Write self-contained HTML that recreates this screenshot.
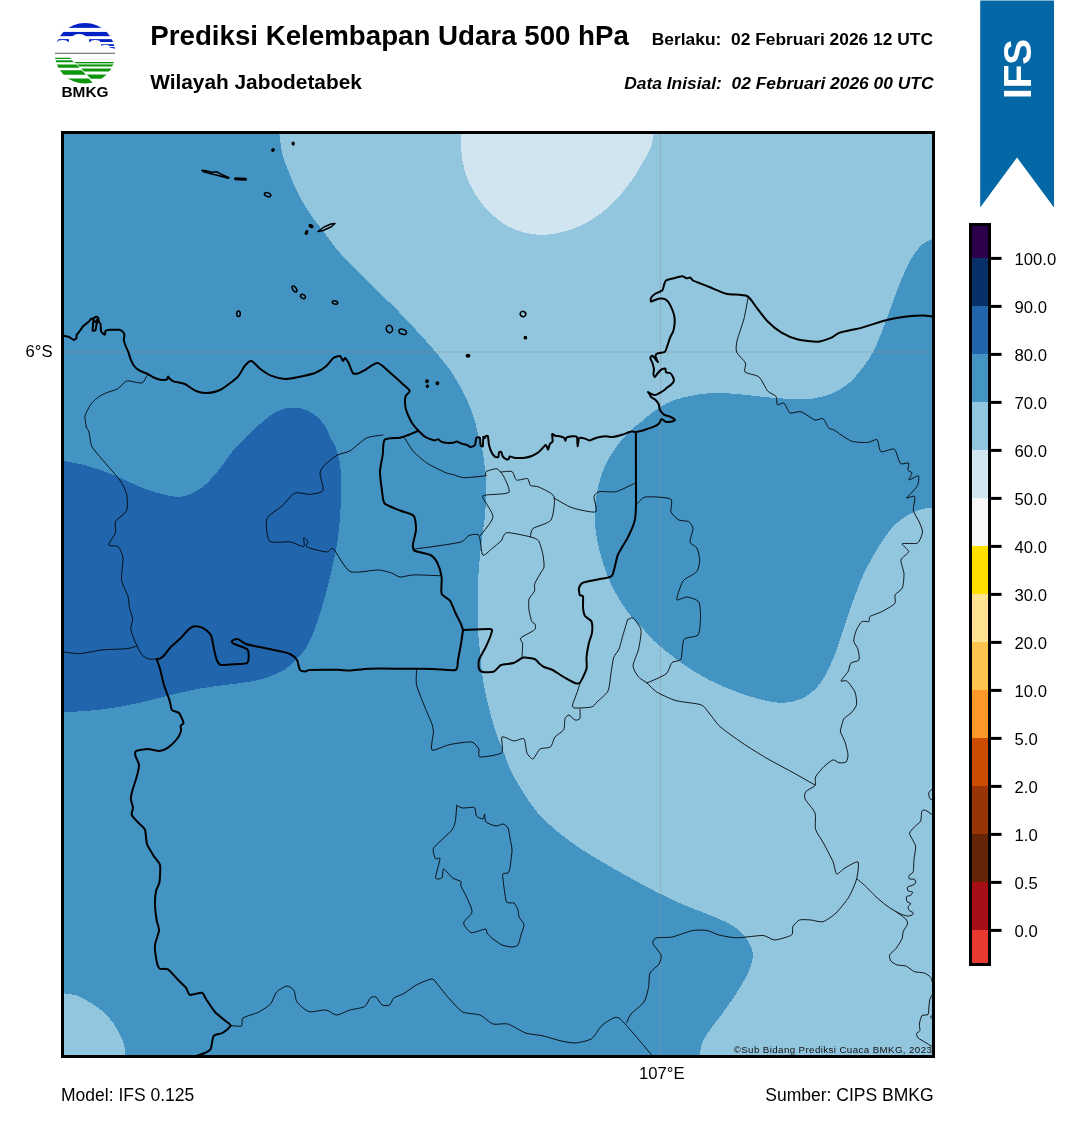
<!DOCTYPE html>
<html lang="id"><head><meta charset="utf-8"><title>Prediksi Kelembapan Udara 500 hPa</title>
<style>
html,body{margin:0;padding:0;background:#fff;}
body{width:1081px;height:1128px;position:relative;overflow:hidden;font-family:"Liberation Sans",sans-serif;color:#000;}
svg text{white-space:pre;}
</style></head><body>
<svg width="1081" height="1128" viewBox="0 0 1081 1128" style="position:absolute;left:0;top:0;will-change:transform">
<defs><clipPath id="mc"><rect x="62" y="132" width="872" height="925"/></clipPath></defs>
<g clip-path="url(#mc)" shape-rendering="crispEdges">
<rect x="61" y="131" width="874" height="927" fill="#4393c3"/>
<path d="M279.3 131C279.3 131.7 279 131.2 279.5 135C280 138.8 280.9 148.3 282.3 154C283.7 159.7 285.8 164 287.7 169C289.6 174 291.2 178.6 293.6 183.8C296 189.1 298.6 194.8 301.8 200.5C305 206.2 309.3 212.8 312.9 217.9C316.5 223 319.3 225.8 323.2 231C327.1 236.2 332.2 243.8 336.5 249C340.8 254.2 345 258 348.8 262C352.6 266 354.7 268.2 359.5 273C364.3 277.8 370.1 283.4 377.8 291C385.5 298.6 396.3 309 405.5 318.7C414.7 328.4 425.1 339.8 433 349C440.9 358.2 447.1 365.7 452.7 374C458.3 382.3 462.9 391.2 466.6 399C470.3 406.8 472.9 414.2 475 421C477.1 427.8 477.7 434.8 479 440C480.3 445.2 481.6 446.3 482.7 452C483.8 457.7 484.8 467 485.4 474.4C485.9 481.8 486.1 489.2 486 496.6C485.9 504 485.4 510.5 484.6 518.8C483.8 527.1 482 537.4 481 546.6C480 555.8 479.1 564.8 478.5 574C477.9 583.2 477.8 592.7 477.7 602C477.6 611.3 477.6 621.7 478 630C478.4 638.3 479.2 643.7 480 652C480.8 660.3 481.5 670.8 483 680C484.5 689.2 486.6 698.7 488.8 707.5C491 716.3 493.8 726.3 496 733C498.2 739.7 499.5 741.3 502 747.6C504.5 753.9 507.6 763.7 511 771C514.5 778.3 518.4 784.7 522.7 791.5C527 798.3 531.6 805.7 537 812C542.4 818.3 548.2 823.7 555 829.5C561.8 835.3 570.2 841.6 578 847C585.8 852.4 593.9 857 601.7 861.7C609.5 866.4 617.8 871 625 875C632.2 879 639.1 882.8 645 886C650.9 889.2 654 890.8 660.5 894C667 897.2 676.2 901.7 684 905C691.8 908.3 699.7 911 707 914C714.3 917 721.9 919.8 727.8 923C733.7 926.2 738.5 929.5 742.4 933.4C746.3 937.3 749.3 942.5 751 946.6C752.7 950.7 753.2 953.6 752.7 958C752.2 962.4 750.7 967.2 748 973C745.3 978.8 740.9 986.2 736.6 993C732.3 999.8 726.6 1007.6 722 1014C717.4 1020.4 712.2 1026.4 708.8 1031.5C705.4 1036.6 703 1040.2 701.5 1044.6C700 1049 700.2 1055.8 700 1058L940 1060L940 128L279 128Z" fill="#92c5de"/>
<path d="M936 236C935.3 236.5 934.7 237 932 238.8C929.3 240.6 923.8 242.6 920 246.6C916.2 250.6 912.7 256.1 909 263C905.3 269.9 901.2 280.1 898 288C894.8 295.9 892.5 303 889.8 310.4C887 317.8 884.3 325.7 881.5 332.6C878.7 339.5 876.2 346 873 352C869.8 358 866.2 363.4 862 368.7C857.8 374 853.1 379.8 848 384C842.9 388.2 837.5 391.2 831.5 393.7C825.5 396.1 818.9 397.8 812 398.7C805.1 399.6 797.8 399.3 790 399C782.2 398.7 773.8 397.8 765 397C756.2 396.2 745.8 394.7 737 394C728.2 393.3 719.8 392.7 712 393C704.2 393.3 696.5 394.7 690 396C683.5 397.3 678.1 398.7 673 400.6C667.9 402.5 663.6 404.9 659.4 407.5C655.2 410.1 651.2 413.4 648 416C644.8 418.6 643 420.3 640 422.8C637 425.3 633.9 427 630 431C626.1 435 620.6 440.9 616.4 446.7C612.2 452.5 608 459.5 605 466C602 472.5 600.1 478.6 598.4 485.5C596.7 492.4 595.3 500.3 594.8 507.7C594.3 515.1 594.8 522.6 595.6 530C596.4 537.4 597.7 544.2 599.8 552C601.9 559.8 604.8 569.2 608 577C611.2 584.8 614.8 592 619 599C623.2 606 629.5 614.4 633 618.7C636.5 623 636.5 621.3 640 625C643.5 628.7 647.1 634.7 654 641C660.9 647.3 672.4 656.5 681.6 663C690.8 669.5 699.8 675 709 679.8C718.2 684.6 727.7 688.5 737 692C746.3 695.5 757.2 698.8 765 700.6C772.8 702.4 778 703.1 784 702.8C790 702.5 795.9 701.2 801 699C806.1 696.8 810.7 693.7 814.9 689.5C819.1 685.3 822.3 680.8 826 674C829.7 667.2 833.8 657.3 837 649C840.2 640.7 842.2 632.3 845 624C847.8 615.7 850.4 607.8 853.7 599C857 590.2 860.6 580.2 864.8 571.5C869 562.8 874.1 554 878.7 546.6C883.3 539.2 888 532.1 892.6 527C897.2 521.9 901.9 518.9 906.5 516C911.1 513.1 915.8 511.1 920 509.7C924.2 508.3 929.3 508.1 932 507.7C934.7 507.2 935.3 507.1 936 507L940 507Z" fill="#4393c3"/>
<path d="M460.3 131C460.3 131.5 460.1 129.1 460.5 134C460.9 138.9 461 152.4 462.4 160.5C463.8 168.6 465.6 175.3 469 182.7C472.4 190.1 477.4 198.3 483 205C488.6 211.7 496.2 218.5 502.7 223C509.2 227.5 515.1 230 522 232C528.9 234 536.6 235.2 544 235C551.4 234.8 559 233.2 566.5 231C574 228.8 581.3 225.9 588.7 221.6C596.1 217.3 604.1 211.5 611 205C617.9 198.5 624.5 190.1 630 182.7C635.5 175.3 640.5 166.5 644 160.5C647.5 154.5 649.5 151.1 651 146.7C652.5 142.3 652.9 136.6 653.3 134C653.7 131.4 653.5 131.5 653.5 131Z" fill="#d1e5f0"/>
<path d="M60 460.5C60.7 460.6 59.4 460.1 64 461C68.6 461.9 79.2 463.5 87.8 466C96.4 468.5 106.3 472.1 115.5 475.8C124.7 479.5 134.7 484.8 143 488C151.3 491.2 159 493.6 165.5 495C172 496.4 176.4 497.5 182 496.6C187.6 495.7 193.2 493.4 198.8 489.7C204.4 486 209.9 480.7 215.4 474.4C220.9 468.1 226.9 458.2 232 452C237.1 445.8 241.3 441.7 246 437C250.7 432.3 254.9 428.2 260 424C265.1 419.8 271 414.4 276.5 411.7C282 408.9 287.4 407.5 293 407.5C298.6 407.5 304.9 408.9 310 411.7C315.1 414.4 320.3 419.6 323.7 424C327.1 428.4 328.6 434 330.6 438C332.7 442 334.4 443.3 336 448C337.6 452.7 339.5 459.8 340.3 466C341.1 472.2 341 477.7 341 485.5C341 493.3 340.9 503.8 340.3 513C339.7 522.2 338.9 531.7 337.5 541C336.1 550.3 334.1 559.5 332 568.8C329.9 578 327.6 587.3 325 596.5C322.4 605.7 319.7 615.7 316.7 624C313.7 632.3 310.9 640 307 646.5C303.1 653 298.1 658.4 293 663C287.9 667.6 283 671 276.5 674C270 677 262.3 679.2 254 681C245.7 682.8 235.7 683.5 226.5 684.8C217.3 686.1 208.1 687 198.8 688.7C189.6 690.4 180.3 692.8 171 695C161.7 697.2 152.2 699.9 143 702C133.8 704.1 124.7 706 115.5 707.5C106.3 709 96.4 710.1 87.8 710.9C79.2 711.6 68.6 711.8 64 712C59.4 712.2 60.7 712.2 60 712.3Z" fill="#2166ac"/>
<path d="M60 993C60.7 993.1 61.1 992.9 64 993.4C66.9 993.9 72.9 994.1 77.6 995.8C82.3 997.5 87.1 1000.5 92 1003.7C96.9 1006.9 102.4 1010.4 106.8 1015C111.2 1019.6 115.6 1026.3 118.5 1031.5C121.4 1036.7 123.3 1042.1 124.4 1046C125.5 1049.9 124.9 1052.7 125 1055C125.1 1057.3 125 1059.2 125 1060L60 1060Z" fill="#92c5de"/>
</g>
<g clip-path="url(#mc)">
<line x1="61" y1="352" x2="935" y2="352" stroke="#909090" stroke-opacity="0.85" stroke-width="1" stroke-dasharray="1 1"/>
<line x1="660.5" y1="131" x2="660.5" y2="1058" stroke="#909090" stroke-opacity="0.8" stroke-width="1" stroke-dasharray="1 1"/>
<g fill="none" stroke="#000" stroke-width="1" stroke-linejoin="round" stroke-linecap="round" stroke-opacity="0.88">
<path d="M147 375.5C146.6 376.3 144 381.6 143 382.4C142 383.2 139.5 382.9 137.7 382.7C135.9 382.5 128.8 380.3 126.6 381C124.4 381.7 119.9 387.5 117.7 388.8C115.5 390.1 108.6 391.9 106.6 392.7C104.6 393.5 101.2 395.3 100 396C98.8 396.7 96.6 398.4 95.5 399.4C94.4 400.4 91.7 403 90.5 404.8C89.3 406.6 85.5 413.5 85 416C84.5 418.5 86 425.2 86.4 427C86.8 428.8 88.4 429.8 89 432C89.6 434.2 90.3 443.4 92 446.7C93.7 450 101.3 458.3 104.4 462C107.5 465.7 117.2 476.5 119.7 480C122.2 483.5 125.8 490.4 126.6 493.8C127.4 497.2 127.8 507.4 126.6 510.5C125.4 513.6 116.7 519.1 115.5 521.6C114.3 524.1 116.3 530.1 115.5 532.7C114.7 535.3 108.3 543.5 108.6 545C108.9 546.5 116.4 545.2 118 546.6C119.6 548 122.6 554 123 557.7C123.4 561.4 121 575.7 121.6 580C122.2 584.3 127.1 593.4 128 596.5C128.9 599.6 128.9 605.1 129.4 607.6C129.9 610.1 132.5 616.2 132.7 618.7C132.9 621.2 130.4 627 130.8 629.8C131.2 632.6 134.8 640.9 136 643.7C137.2 646.5 140.5 653.1 141.9 654.8C143.3 656.5 147.1 658.5 148.8 659C150.5 659.5 156.1 659 157 659"/>
<path d="M60 652C60.4 652 61.8 651.8 64 652C66.2 652.2 75.2 653.9 79.4 653.7C83.6 653.5 96.4 650.6 101.6 650C106.8 649.4 122.7 649.1 126.6 648.7C130.5 648.3 135.8 646.3 137 646"/>
<path d="M383 435C381.2 435.3 370.3 436.2 366.6 438C362.9 439.8 353.2 448.9 350 450.8C346.8 452.7 340.3 453.5 337.5 455C334.7 456.5 326.9 462.7 325 464.7C323.1 466.7 320.2 470.1 320 473C319.8 475.9 324.1 488.1 323 490.5C321.9 492.9 312.9 494.1 309.8 494.4C306.7 494.7 298.1 491.7 295 493C291.9 494.3 285.1 503.1 282 506C278.9 508.9 268.2 514.9 266.8 518.8C265.4 522.7 266.9 538.4 269.5 541C272.1 543.6 286.2 541.3 290 541.9C293.8 542.5 302.2 547.1 303.7 546.6C305.2 546.1 303.2 538.3 303.7 537.7C304.2 537.1 307.4 540.6 307.8 541.6C308.2 542.6 304.9 545.8 307 547C309.1 548.2 323.5 551.8 326.4 552C329.3 552.2 330.8 546.8 333.4 549C336 551.2 345.1 569.2 350 571.5C354.9 573.8 373.2 569.8 377.8 570C382.4 570.2 389.1 572.2 391.6 573C394.1 573.8 397.5 576.8 400 577C402.5 577.2 409.4 575 413.8 574.9C418.2 574.8 437.1 575.6 440 575.7"/>
<path d="M748 298C747.6 300.3 745.2 313.9 744 318.7C742.8 323.5 737.8 337.3 737 341C736.2 344.7 735.7 349.6 736.6 352C737.5 354.4 744.6 360.8 745.5 363C746.4 365.2 743.5 370.4 745 372C746.5 373.6 756.5 374.9 759 377C761.5 379.1 765.8 388.8 767.7 391C769.6 393.2 774.9 394.9 776 396.4C777.1 397.9 776.5 404.1 777.4 404.8C778.3 405.5 782.6 402.1 784 403C785.4 403.9 788.1 412 790 413C791.9 414 798.2 410.9 801 411.7C803.8 412.5 812.5 419.2 814.9 420C817.3 420.8 821.5 417.7 823 418.6C824.5 419.5 827.5 426.7 828.7 428C829.9 429.3 831.5 428.6 834 430C836.5 431.4 847.3 439.6 851 441C854.7 442.4 864.7 442.6 867.6 442.5C870.5 442.4 875.5 438.7 877 439.7C878.5 440.7 879.1 450.6 881 451.6C882.9 452.6 892.1 448.3 894 449C895.9 449.7 897.2 456.1 898 457.8C898.8 459.5 899.8 463.3 901 463.9C902.2 464.5 907.9 462.3 908.7 463C909.5 463.7 907.4 468.9 907.8 470C908.2 471.1 911.9 471.9 912 473C912.1 474.1 908.3 479.7 909 480C909.7 480.3 917.5 475.2 918.4 475.8C919.3 476.4 918.4 483.5 917.5 485.5C916.6 487.5 911.8 492.4 910.6 493.8C909.4 495.2 906 497.7 906.5 498C907 498.3 914 495.2 914.8 496.6C915.6 498 912.9 507.7 913.4 510.5C913.9 513.3 918 519.2 919 521.6C920 524 922.7 529.6 922.5 532C922.3 534.4 919.7 541.7 917.5 543C915.3 544.3 903.3 542.8 902.3 543.8C901.3 544.8 908.8 549.8 908.7 551.6C908.6 553.4 901.5 557.5 901 560C900.5 562.5 903.9 570.9 904 574C904.1 577.1 903.3 585.7 902.3 588C901.3 590.3 895.8 593.3 895 595C894.2 596.7 896.3 601.6 894.8 603.5C893.3 605.4 884.3 610.4 881.5 611.8C878.7 613.2 871.4 615.4 870 616.5C868.6 617.6 869.9 620.9 869 621.5C868.1 622.1 863.4 620.6 862 621.5C860.6 622.4 857.4 627.6 856.5 629.8C855.6 632 853.5 638.9 853.7 641C853.9 643.1 857.3 646.9 857.9 649C858.5 651.1 859.8 658.4 859 660C858.2 661.6 852.2 661.7 851 663C849.8 664.3 849.1 669.5 848 671.5C846.9 673.5 841.1 679.9 841 681C840.9 682.1 845.2 679.8 846.8 681C848.4 682.2 853.9 689.4 855 692C856.1 694.6 856.9 702.5 856.5 704.8C856.1 707.1 852.4 711.5 851 713C849.6 714.5 845.1 716.9 844 718.6C842.9 720.3 841.4 726.5 841 728C840.6 729.5 840.1 730.5 840.5 732C840.9 733.5 844.1 739.2 844.9 741.7C845.7 744.2 847.9 752.6 848 754.9C848.1 757.2 847 761.1 846 762C845 762.9 840.4 763 839 762.8C837.6 762.6 834.7 759.5 833 759.9C831.3 760.3 825.9 764.7 824 766.6C822.1 768.5 816.6 774.7 815.6 776.8C814.6 778.9 816.1 784 815 785.6C813.9 787.2 807.1 790 806 791.5C804.9 793 804 796.4 805 798.8C806 801.2 813.8 809.6 815 813C816.2 816.4 814.6 826.1 815.6 829.5C816.6 832.9 822.1 840.4 824 844C825.9 847.6 831.6 858.4 833 861.7C834.4 865 835.4 873.3 836.7 874C838 874.7 842.5 869.3 844.9 868C847.3 866.7 856.7 860.8 858 862C859.3 863.2 857.6 875.1 856.6 879C855.6 882.9 851.3 893 849 896.8C846.7 900.6 838.9 910.2 836 913C833.1 915.8 825.8 920.9 823 921.7C820.2 922.5 813.6 920.2 811 920C808.4 919.8 801.5 919.3 799.5 920C797.5 920.7 793.7 925 792.8 926.7C791.9 928.4 793.6 933.5 791.6 935C789.6 936.5 777.8 939.9 774.6 940C771.4 940.1 767.2 935.7 763 935.5C758.8 935.3 741.5 937.9 736.6 937.8C731.7 937.7 722.3 935.8 719 935C715.7 934.2 709.9 931 707 930.5C704.1 930 696.6 929.8 692.7 930.5C688.8 931.2 676.1 936.2 672 937C667.9 937.8 658.1 937.3 656 938C653.9 938.7 652.4 941.8 653 943.7C653.6 945.6 660.3 952.7 661 955C661.7 957.3 660.2 962 659 964C657.8 966 651.2 970.4 650 973C648.8 975.6 649.2 984.4 648.5 987.6C647.8 990.8 645.9 999.1 644 1002C642.1 1004.9 632.9 1011.7 631 1014C629.1 1016.3 627.1 1021.7 626.6 1022.7"/>
<path d="M404.6 438C405.6 439.6 411.3 449.2 413.9 452C416.5 454.8 424.2 461.3 427.8 463.6C431.4 465.9 443.2 471.6 446 472.8C448.8 474 450.7 473.9 452.7 474.4C454.7 474.9 460.1 477.5 463.8 477.7C467.5 477.9 483.5 476 486 475.8"/>
<path d="M486 475.8C486 475.3 484.8 472.4 486 471.6C487.2 470.8 495 468.3 497 468.9C499 469.5 502.7 474.4 504 477C505.3 479.6 510.8 490.4 508.8 492.4C506.8 494.4 488.9 494.4 486 495C483.1 495.6 482.2 495.6 483 498C483.8 500.4 493.3 512.8 493 517C492.7 521.2 481.8 533.4 480.4 535.5"/>
<path d="M501 472C502.2 472 510.3 470.7 512 471.6C513.7 472.5 514.8 479.2 516.5 480C518.2 480.8 526.1 478 527.6 478.6C529.1 479.2 529.2 484.6 530.4 485.5C531.6 486.4 536.1 485.8 538.7 487C541.3 488.2 552.6 492.9 554 496.6C555.4 500.3 553.3 516.5 551 520C548.7 523.5 535.3 526.6 533 528.5C530.7 530.4 530.7 536 530.4 536.9"/>
<path d="M554 498C556 499.1 567.4 506.2 572 507.7C576.6 509.2 593.2 513.1 595.6 511.9C598 510.7 593.5 498.9 594 496.6C594.5 494.3 597.3 492.2 599.8 491.6C602.3 491 612.4 492.6 616.4 491.6C620.4 490.6 633.7 483.7 635.9 482.7"/>
<path d="M636 505C637.1 504.1 641.7 497.7 645.5 497C649.3 496.3 667.7 497.3 670.5 499C673.3 500.7 670.1 509.6 671 511.9C671.9 514.2 676.9 518.9 678.9 520C680.9 521.1 687 520.7 688.6 521.6C690.2 522.5 692.8 526.2 693 528.5C693.2 530.8 689.6 539.8 690 542C690.4 544.2 695.8 546 696.9 548C698 550 699.7 557.4 699.7 560C699.7 562.6 698.6 569.3 696.9 571.5C695.2 573.7 685.9 578.1 684 579.9C682.1 581.7 680.8 585.8 680 588C679.2 590.2 676.1 598.8 676.9 599.8C677.7 600.8 684.6 596.8 687 597C689.4 597.2 697.3 599.6 698.8 602C700.3 604.4 700.6 615 700.5 618.7C700.4 622.4 699.8 632.7 698 635C696.2 637.3 685.9 636.8 684 639.5C682.1 642.2 682.3 656.4 681 659C679.7 661.6 673.7 660.9 672 662.6C670.3 664.3 668.8 671.7 666 674C663.2 676.3 649.1 682 647 683"/>
<path d="M414.4 549C416.5 548.7 427.8 547.4 433 546.6C438.2 545.8 457 543.2 461 542C465 540.8 467 536.2 469 535.5C471 534.8 477.5 533.3 479 535.5C480.5 537.7 481.3 553.5 482.7 555C484.1 556.5 489.5 550.6 491.5 549C493.5 547.4 499.3 542.8 501 541C502.7 539.2 503.5 533.2 506.8 532.7C510.1 532.2 526.9 536 530.4 536.9C533.9 537.8 537.3 539 538.7 541C540.1 543 542.4 552.1 543 555C543.6 557.9 544.3 564.9 544 567C543.7 569.1 541 572.1 540 574C539 575.9 535.2 582.1 534.6 584C534 585.9 535.2 589.3 534.6 591C534 592.7 529.6 596.9 529 599C528.4 601.1 528.7 607.5 529 610C529.3 612.5 531.1 619.9 531.8 621.5C532.5 623.1 534.7 623.1 535 624C535.3 624.9 536.2 628.2 534.6 629.8C533 631.4 522 636.5 520.7 638C519.4 639.5 522.5 641.5 522.6 643.7C522.7 645.9 522.1 656.1 522 657.6"/>
<path d="M416.6 670C416.6 671.7 415.7 680.8 416.6 685C417.5 689.2 423.3 703.2 425 707.5C426.7 711.8 431 721.3 431.9 724C432.8 726.7 433.4 729.1 433.4 732C433.4 734.9 430.2 748.6 432 750C433.8 751.4 445.1 745.5 449.5 744.6C453.9 743.7 468.2 741.5 471.5 742C474.8 742.5 477.9 747.3 478.8 749C479.7 750.7 477.5 756.6 480 757C482.5 757.4 499.2 755 501.6 752.8C504 750.6 500.6 738.3 502 737C503.4 735.7 511.6 740.8 514 741C516.4 741.2 522.6 737.5 524 738.8C525.4 740.1 526 750.8 527 753C528 755.2 531.6 759.4 533 759C534.4 758.6 538.1 750.3 540 749C541.9 747.7 548.8 748.3 550.5 747C552.2 745.7 553.5 738.9 555 737C556.5 735.1 562.6 731.7 563.7 729.7C564.8 727.7 564.4 720.2 565 718.6C565.6 717 567.9 714.8 569 715C570.1 715.2 573.8 719.6 575 720C576.2 720.4 579.2 719.8 579.8 718.6C580.4 717.4 580 710.1 580 709"/>
<path d="M627.5 620C628.1 619.8 631.5 616.9 633 618C634.5 619.1 640.4 626.4 641 629.8C641.6 633.2 639.5 645 638.6 649C637.7 653 633 662.9 633 666C633 669.1 637 675.1 638.6 677C640.2 678.9 645 681.3 647 683C649 684.7 653.5 690 656.7 692C659.9 694 671.1 699.2 676 700.6C680.9 702 697.3 703.4 701 704.8C704.7 706.2 706.8 710.5 709 713C711.2 715.5 716.8 723.7 720.5 727C724.2 730.3 737.4 739.6 742.4 743C747.4 746.4 760.4 754.6 765.9 757.8C771.4 761 786.5 769 792 772C797.5 775 812.4 783.6 815 785"/>
<path d="M627.5 620C627 621.7 623.9 631.8 623 635C622.1 638.2 620 646.5 619 649C618 651.5 614.6 654.8 613.7 657.6C612.8 660.4 611.5 670.3 610.9 674C610.3 677.7 609.5 687.9 608 691C606.5 694.1 598.8 700.2 597 702C595.2 703.8 594 706.3 591.5 707C589 707.7 576.9 708.2 574.8 708C572.7 707.8 572.3 706.7 572.6 704.8C572.9 702.9 576.8 693.4 577.6 691C578.4 688.6 579.7 683.9 580 683"/>
<path d="M456.8 805.5C457.5 805.8 460.7 807.8 462.7 808C464.7 808.2 472.9 806.7 474.4 807.6C475.9 808.5 475.4 814.7 476.4 816C477.4 817.3 482.1 819.2 483 819C483.9 818.8 484.3 813.7 484.6 814C484.9 814.3 484.7 820.7 486 822C487.3 823.3 494.1 825.8 496 826C497.9 826.2 501.5 823.8 502.8 824C504.1 824.2 507.2 826.4 508 828C508.8 829.6 509.6 835.6 510 838C510.4 840.4 512 846.7 512 850C512 853.3 510.4 865 510 867.6C509.6 870.2 508.8 872.3 508 873C507.2 873.7 503.3 872.7 502.8 874C502.3 875.3 503.3 881.9 503.7 885C504.1 888.1 505.5 900 506.6 902C507.7 904 512.7 902.1 514 903C515.3 903.9 517.4 908.4 518 910C518.6 911.6 518.3 915.4 519 917C519.7 918.6 523.8 922.6 524 924.6C524.2 926.6 521.7 932.7 521 935C520.3 937.3 519 943.7 518 945C517 946.3 513.8 947 512 947C510.2 947 504.1 945.9 502 945C499.9 944.1 494.7 940.3 493 939C491.3 937.7 487.8 934.1 487 933C486.2 931.9 486.9 929.2 486 929C485.1 928.8 480.5 930.6 478.8 931C477.1 931.4 472.3 933.4 470.6 932.5C468.9 931.6 463.4 925.3 463.6 923C463.8 920.7 471.6 914.8 472 912C472.4 909.2 468 900.5 467 898C466 895.5 463.4 890.9 462.7 889.5C462 888.1 460.8 885.9 460.6 885C460.4 884.1 461.9 882.4 461 881.6C460.1 880.8 454.3 879.2 452.4 877.8C450.5 876.4 444.9 869 443.7 869C442.5 869 442.9 876.8 442 877.8C441.1 878.8 435.7 879.9 435.5 877.8C435.3 875.7 440 860.9 440 858.8C440 856.7 436.2 859.9 435.5 858.8C434.8 857.7 432.5 850.8 433.4 848.5C434.3 846.2 441.6 840.1 443.7 838C445.8 835.9 451.1 831.4 452.4 829.5C453.7 827.6 454.9 823.4 455.4 820.7C455.9 818 456.6 807.2 456.8 805.5"/>
<path d="M230.6 1025.6C231.8 1025.6 240.1 1026.8 241.5 1026C242.9 1025.2 241.1 1019.6 243 1018C244.9 1016.4 255.9 1013.6 259 1012C262.1 1010.4 268.7 1005.9 270.7 1003.7C272.7 1001.5 274.8 994 276.6 992C278.4 990 284.9 986.2 286.8 986C288.7 985.8 292.9 988.7 294 990.5C295.1 992.3 295.4 999.7 297 1002C298.6 1004.3 305.6 1010.7 308.8 1011.6C312 1012.5 322.9 1009.6 326 1010C329.1 1010.4 333.9 1015 336.6 1015C339.3 1015 346.9 1010.9 350 1010C353.1 1009.1 362.3 1008 364.6 1006.6C366.9 1005.2 369.2 998.9 370.5 997.8C371.8 996.7 374.7 996.2 376 997C377.3 997.8 380.5 1004.1 382 1005C383.5 1005.9 388.2 1005.8 389.5 1005C390.8 1004.2 392.4 999.1 394 997.8C395.6 996.5 401.4 994.9 404 993.4C406.6 991.9 413.9 986.2 417 984.6C420.1 983 429.7 979 432 979C434.3 979 435.9 982.4 437.8 984.6C439.7 986.8 446.7 996 449.5 999C452.3 1002 459.3 1010.2 462.7 1012C466.1 1013.8 476.6 1013.7 480 1015C483.4 1016.3 489.9 1023 493 1024C496.1 1025 504.4 1023 508 1024C511.6 1025 521.7 1031.7 525.6 1033C529.5 1034.3 539.1 1035 543 1035.9C546.9 1036.8 557.1 1040 560.7 1040.8C564.3 1041.6 571.6 1043.2 575 1043C578.4 1042.8 588.5 1040.7 591.5 1038.8C594.5 1036.9 599.3 1027.9 601.7 1025.6C604.1 1023.3 611.5 1018.8 613.4 1018C615.3 1017.2 617.5 1017.2 619 1018C620.5 1018.8 624.5 1023.3 626.6 1025.6C628.7 1027.9 635.2 1035.5 638 1038.8C640.8 1042.1 649.9 1052.9 651.7 1055C653.5 1057.1 653.7 1057.7 654 1058"/>
<path d="M857.4 879.3C858.2 880 862.6 883.4 864.8 885.5C867 887.6 874.4 895.4 877.2 897.9C880 900.4 887.1 906.1 889.6 907.8C892.1 909.5 897.7 912.6 899.6 913.5C901.5 914.4 905.6 915.8 907 916C908.4 916.2 911.3 915.4 912 915C912.7 914.6 913.5 913.3 913.2 912.8C912.9 912.3 909.6 911 909 910.3C908.4 909.6 908 907.3 908.2 906.6C908.4 905.9 910.8 904.2 910.7 903.6C910.6 903 907.5 902.4 907 901.6C906.5 900.8 906.1 897.3 906.5 896.6C906.9 895.9 910 895.9 910.7 895.4C911.4 894.9 912.8 892.5 912.5 892C912.2 891.5 908.8 891.6 908.2 891C907.6 890.4 907.1 887.6 907.5 887C907.9 886.4 911.1 885.9 912 885.5C912.9 885.1 915.4 883.7 915.7 883C916 882.3 915.1 879.7 914.4 879.3C913.7 878.9 910.1 879.4 909.5 879C908.9 878.6 908.6 876.3 909 875.5C909.4 874.7 912.6 873.6 913.2 871.8C913.8 870 913.7 862.2 914 859.4C914.3 856.6 915.8 849.1 915.7 847C915.6 844.9 913.9 842.3 913.2 840.8C912.5 839.3 909.4 834.8 909.5 833.3C909.6 831.8 913.2 828.4 914.4 827C915.6 825.6 919.8 822.8 920.6 821C921.4 819.2 921.3 812.2 921.9 811C922.5 809.8 924.4 809.9 925.6 810.3C926.8 810.7 931.1 814.1 932.3 814.7C933.5 815.3 935.6 815.9 936 816"/>
<path d="M895.8 911.5C896.9 912.3 904.5 917.6 905.8 919C907.1 920.4 907.8 922.6 907.5 924C907.2 925.4 903.9 929.8 903.3 931.4C902.7 933 902.8 936.9 902 938.8C901.2 940.7 897.2 946.9 895.8 948.7C894.4 950.5 890.1 953.6 889.6 955C889.1 956.4 890.1 959.9 890.9 961C891.7 962.1 895.3 964.3 897 964.9C898.7 965.5 903.9 965.3 905.8 966C907.7 966.7 912.3 970.8 914.4 971.6C916.5 972.4 922.6 972.4 924.4 973C926.2 973.6 929.7 976.3 930.6 977.3C931.5 978.3 931.9 981 932.3 982C932.7 983 933.8 985.6 934 986"/>
<path d="M933 788.7C932.5 789.1 929.2 791.3 928.8 792.4C928.4 793.5 929.3 797.8 929.8 798.6C930.3 799.4 932.6 799.8 933 799.9"/>
<path d="M934 993C933.8 993.2 932.8 993.9 932.3 994.6C931.8 995.3 930.2 998.1 929.8 999.6C929.4 1001.1 929 1006.3 928.8 1008C928.6 1009.7 928.8 1013.6 928 1014.5C927.2 1015.4 922.9 1014.6 921.9 1015.7C920.9 1016.8 919.6 1022.3 919.4 1024C919.2 1025.7 920.2 1029.5 919.9 1030.6C919.6 1031.7 916.6 1032.8 916.4 1033.6C916.2 1034.4 917.3 1037.1 918.2 1038C919.1 1038.9 922.8 1040.8 924.4 1041.8C926 1042.8 931.1 1046 932.3 1046.7C933.5 1047.4 934.7 1047.9 935 1048"/>
<path d="M933 1014.5C932.7 1014.8 930.6 1016.4 930.6 1017C930.6 1017.6 932.7 1019.2 933 1019.5"/>
</g>
<g fill="none" stroke="#000" stroke-width="2" stroke-linejoin="round" stroke-linecap="round">
<path d="M60 335C60.4 335.1 62.9 335.5 63.9 335.7C64.9 335.9 67.9 336.5 68.9 336.9C69.9 337.3 72.5 339.5 73.3 339.7C74.1 339.9 76 338.8 76.4 338.3C76.8 337.8 76.2 335.9 76.7 335C77.2 334.1 79.8 331 80.5 330C81.2 329 82.4 326.9 83.3 326C84.2 325.1 88 322.4 88.9 321.6C89.8 320.8 90.5 319.2 91 318.9C91.5 318.6 93.1 318.3 93.3 319C93.5 319.7 93.1 323.7 93 325C92.9 326.3 92.4 329.9 92.7 330.5C93 331.1 95.1 330.7 95.5 330C95.9 329.3 96.3 325.2 96.6 323.9C96.9 322.6 98.3 319.1 98.3 318.3C98.3 317.5 97 316.8 96.6 316.7C96.2 316.6 94.8 317.4 94.4 317.8C94 318.2 93.2 319.5 93.3 320C93.4 320.5 94.4 322.2 95 322C95.6 321.8 97.9 318.3 98.3 318.3C98.7 318.3 98.7 321.4 98.9 322C99.1 322.6 100.3 322.9 100.5 323.9C100.7 324.9 100.8 330 101 331C101.2 332 102.3 332.9 102.7 333.3C103.1 333.7 104.7 334.9 105 334.6C105.3 334.3 104.9 331.5 105.5 331C106.1 330.5 108.5 329.9 110 329.8C111.5 329.7 117.5 329.7 118.8 329.8C120.1 329.9 121.4 330.5 122 331C122.6 331.5 124.2 333.4 124.4 334.4C124.6 335.4 123.7 338.8 123.8 340C123.9 341.2 125 344.2 125.5 345.5C126 346.8 127.7 350.5 128.3 352C128.9 353.5 129.9 357.3 130.5 358.8C131.1 360.3 133 364.3 133.8 365.5C134.6 366.7 136.5 368.6 137.7 369.4C138.9 370.2 143.4 372.3 144.4 372.7C145.4 373.1 145.8 372.9 146.6 373.3C147.4 373.7 150.8 376 152 376.6C153.2 377.2 156.5 378.6 157.7 379C158.9 379.4 162 380 163 380C164 380 166.4 379.8 167 379.4C167.6 379 167.7 376.6 168 376.6C168.3 376.6 169.3 378.4 170 379C170.7 379.6 172.9 381.2 174 381.6C175.1 382 178.8 382.4 180 382.7C181.2 383 183.2 383.1 185 384C186.8 384.9 193.6 390 196 391C198.4 392 204.2 393.2 207 393C209.8 392.8 217.6 391.3 221 389.5C224.4 387.7 235 379.6 237.6 377C240.2 374.4 243.1 367.8 244.6 366C246.1 364.2 249.8 360.7 251.5 361C253.2 361.3 257.8 367.1 260 368.7C262.2 370.3 268.2 374.5 271 375.6C273.8 376.7 281.9 378.8 285 379C288.1 379.2 295.4 377.7 298.7 377C302 376.3 311.9 374.2 315 373C318.1 371.8 324.4 367.7 326.4 366C328.4 364.3 331.9 359.1 333.4 358C334.9 356.9 338.9 355.7 340 356C341.1 356.3 342.4 360.8 343 361C343.6 361.2 344.4 357.8 345 358C345.6 358.2 347.7 361.3 348.6 363C349.5 364.7 351.8 371.8 352.8 373C353.8 374.2 356.6 373.8 358 373.5C359.4 373.2 362.8 371.2 365 370C367.2 368.8 374.8 362.6 377.8 363C380.8 363.4 388.8 371.7 391.6 374C394.4 376.3 400.7 382.1 402.7 384C404.7 385.9 409.4 389.6 409.7 391C410 392.4 406 394.6 405.5 396.4C405 398.2 405.2 405.4 405.5 407.5C405.8 409.6 407.2 413.2 408 415C408.8 416.8 411.5 422.3 412.7 424C413.9 425.7 417.1 429.3 418.5 430.7C419.9 432.1 423.6 435.9 425.4 437C427.2 438.1 433.3 440.1 434.7 440.4C436.1 440.7 437.1 439.1 438 439.3C438.9 439.5 441.1 441.9 442.8 442.3C444.5 442.7 451.5 442.9 453 442.8C454.5 442.7 455.7 441.5 456.7 441.6C457.7 441.7 461.3 443.5 462.4 443.9C463.5 444.3 466.1 444.7 467 445C467.9 445.3 469.6 447 470.5 447C471.4 447 474.4 446 475 445C475.6 444 475.8 438.8 476.3 438C476.8 437.2 479.3 436.9 479.8 437.7C480.3 438.5 480.2 444.1 480.5 445C480.8 445.9 482.5 447.1 482.8 446.2C483.1 445.3 483.1 437.9 483.3 437C483.5 436.1 484.7 438.1 485 438C485.3 437.9 485.3 436.5 485.6 436.3C485.9 436.1 487.5 435.3 487.9 436.3C488.3 437.3 488.6 443.3 489 445C489.4 446.7 490.8 450.7 491.4 452C492 453.3 494 456 494.8 456.6C495.6 457.2 497.8 457.5 498.3 457C498.8 456.5 498.7 453.1 499 452.5C499.3 451.9 500.9 451.5 501.3 452C501.7 452.5 502.3 455.8 502.9 456.6C503.5 457.4 505.8 459.1 506.4 459.4C507 459.7 508.3 459.2 508.7 458.9C509.1 458.6 509.1 456.7 509.9 456.6C510.7 456.5 513.9 457.9 515.6 458C517.3 458.1 523.1 458 524.9 457.8C526.7 457.6 530.3 456.6 531.8 456C533.3 455.4 537.3 453.2 538.8 452C540.3 450.8 544.7 445.3 545.7 445C546.7 444.7 547.5 449.8 548 449.7C548.5 449.6 549.4 444.8 549.9 443.9C550.4 443 552.3 442.7 552.6 441.6C552.9 440.5 551.9 434.6 552.2 434C552.5 433.4 554.2 435.5 555 435.8C555.8 436.1 558.6 436.1 559.6 436.3C560.6 436.5 563.6 437.5 564.2 438C564.8 438.5 565.1 440.9 565.4 440.9C565.7 440.9 565.7 438.2 566.5 437.7C567.3 437.2 571.1 436.4 572.3 436.3C573.5 436.2 576.3 435.9 576.9 437C577.5 438.1 577.3 446.1 577.6 446.2C577.9 446.3 578.4 438.8 579.2 438C580 437.2 583.8 438.3 585 438.6C586.2 438.9 588.3 440.5 589.6 440.4C590.9 440.3 594.8 438.2 596.6 437.7C598.4 437.2 604 436.4 605.8 436.3C607.6 436.2 611 437.2 612.8 437C614.6 436.8 619.9 435.3 622 434.7C624.1 434.1 629.7 431.9 631.3 431.6C632.9 431.3 634.5 432.2 636 432C637.5 431.8 643 430.3 645 429.7C647 429.1 652.4 427.4 654 426.7C655.6 426 658.6 423.9 659.4 423C660.2 422.1 660.9 419.1 661.6 419C662.3 418.9 664.8 421.7 666 422C667.2 422.3 671 421.6 672 421.4C673 421.2 675.1 420.5 675 420C674.9 419.5 671.9 417.6 670.7 417C669.5 416.4 665.2 415.4 664 414.6C662.8 413.8 660.6 411.2 660 410C659.4 408.8 659.1 405.1 658.6 404C658.1 402.9 656.4 400.8 655.6 400C654.8 399.2 651.7 397.7 651 397C650.3 396.3 649.9 394.6 649.6 394C649.3 393.4 647.8 392 648 392C648.2 392 650.2 393.7 651 394C651.8 394.3 654.6 395.1 655.6 395C656.6 394.9 659 393.4 660 392.8C661 392.2 663.9 390.4 664.7 389.8C665.5 389.2 666.3 388 667 387.5C667.7 387 670 385.7 670.7 385C671.4 384.3 673.4 382.4 673.7 381.5C674 380.6 673.4 377.9 673 377C672.6 376.1 670.8 373.5 670 373C669.2 372.5 666.5 372.9 666 372.4C665.5 371.9 665.9 369 665.4 368.7C664.9 368.4 662.4 368.9 661.6 369.4C660.8 369.9 658.6 372.2 657.9 373C657.2 373.8 655.4 376.9 654.9 377C654.4 377.1 653.5 374.8 653.4 374C653.3 373.2 654.1 370.6 654 369.4C653.9 368.2 653 364.7 652.6 363.4C652.2 362.1 650.3 358.8 650.3 358C650.3 357.2 651.9 355.6 652.6 355.9C653.3 356.2 655.8 359.7 656.4 360.4C657 361.1 658 362.4 657.9 362C657.8 361.6 655.7 357.5 655.6 356.6C655.5 355.7 656 354.1 657 353.6C658 353.1 663.6 352.8 664.7 352C665.8 351.2 666.4 348.4 667 346.8C667.6 345.2 669.3 339.5 670 337.8C670.7 336.1 672.5 333.1 673 331.8C673.5 330.5 674.2 327.4 674.4 325.7C674.6 324 674.7 318.6 674.4 316.7C674.1 314.8 672.6 310.5 672 309C671.4 307.5 669.7 304.1 669 303C668.3 301.9 666.4 299.9 665.4 299.4C664.4 298.9 661.2 298.5 660 298.6C658.8 298.7 655.9 299.7 654.9 300C653.9 300.3 651.4 301.8 651 301.6C650.6 301.4 650.6 298.7 651 297.9C651.4 297.1 653.6 294.8 654.9 294C656.2 293.2 661.4 291.3 662.4 290.3C663.4 289.3 663.6 286.1 664 285C664.4 283.9 664.9 281.2 666 280.5C667.1 279.8 671.9 278.8 673.7 278.3C675.5 277.8 680.5 276.3 682 276.3C683.5 276.3 686.1 278.2 687 278.3C687.9 278.4 689.3 277.3 690 277.5C690.7 277.7 691.8 279.8 693 280.5C694.2 281.2 698.9 282.8 700.8 283.6C702.7 284.4 707.2 286.2 710 287.3C712.8 288.4 721.9 292.7 726 293.7C730.1 294.7 743.6 294.5 747 296C750.4 297.5 754.3 304.8 756.6 307.6C758.9 310.4 764.9 318.7 767.7 321.5C770.5 324.3 778.1 330.6 781.5 332.6C784.9 334.6 794 338.5 798 339.5C802 340.5 813.9 342 817.6 341.8C821.3 341.6 829 338.6 831.5 337.6C834 336.6 836.4 333.7 839.8 332.6C843.2 331.5 856.8 329 862 327.6C867.2 326.2 882.1 321.2 887 320C891.9 318.8 902.5 317 906.5 316.5C910.5 316 920.2 315.4 923 315.4C925.8 315.4 930.6 316.3 932 316.5C933.4 316.7 935.6 316.9 936 317"/>
<path d="M418.5 430.7C417.4 431.1 411.1 433.9 409 434.7C406.9 435.5 402.7 437.1 400 437.7C397.3 438.3 386.6 437.8 384.7 439.7C382.8 441.6 383.2 451.5 382.7 455C382.2 458.5 380.1 467.6 380 471.6C379.9 475.6 381.5 487.5 382 491C382.5 494.5 382.7 501.3 384.7 503.5C386.7 505.7 396.8 509.1 400 510.5C403.2 511.9 412 513.8 413.8 516C415.6 518.2 416.1 526.9 416 530C415.9 533.1 413.2 541.5 413 543.8C412.8 546.1 412.5 549.5 414.4 550.7C416.3 551.9 427.9 553.6 430.5 555C433.1 556.4 436.2 560.6 437.4 563C438.6 565.4 441.1 573.6 441.6 577C442.1 580.4 440.7 591.1 441.6 593.7C442.5 596.3 448.5 598.6 450 600.7C451.5 602.8 454.3 610.4 455.5 613C456.7 615.6 460.2 622.1 461 624C461.8 625.9 462.8 629.3 463 630"/>
<path d="M463 630C466 629.9 486.8 628.7 490 629C493.2 629.3 491.9 630.7 491.5 632.6C491.1 634.5 487.4 643.5 486 646.5C484.6 649.5 479.8 657.5 479 660C478.2 662.5 478.6 667.4 479 668.7C479.4 670 481.3 671.7 483 672C484.7 672.3 492 672.3 494 671.5C496 670.7 498.8 665.9 501 665C503.2 664.1 511.2 663.8 513.7 663C516.2 662.2 521.2 658 523.5 657.6C525.8 657.2 532.9 658.4 534.6 659C536.3 659.6 537.7 662.1 538.7 663C539.7 663.9 542.5 666.2 544 667C545.5 667.8 550.4 668.9 552.6 670C554.8 671.1 561.2 675.6 563.7 677C566.2 678.4 573 682.4 574.8 683C576.6 683.6 578.7 684.2 580 682.6C581.3 681 585.8 671.5 586.5 668.7C587.2 665.9 586.3 660.4 586.5 657.6C586.7 654.8 588.1 646.5 588.7 643.7C589.3 640.9 591.7 635.1 592 632.6C592.3 630.1 592.3 623.3 591.5 621.5C590.7 619.7 585.9 617.5 585 616C584.1 614.5 583.2 609.8 583 607.6C582.8 605.4 583.4 597.9 583 596.5C582.6 595.1 580.2 595.9 579.8 595C579.4 594.1 578.6 589.4 579 588C579.4 586.6 580.7 583.7 583 582.7C585.3 581.7 596.6 579.8 599.8 579C603 578.2 610 578.4 612 575.7C614 573 616.1 559.2 617.8 555C619.5 550.8 625.6 541.7 627.5 538C629.4 534.3 633.6 525 634.5 521.6C635.4 518.2 635.7 514.8 635.9 507.7C636.1 500.6 635.9 466.2 635.9 457.8C635.9 449.4 635.9 434.9 635.9 432"/>
<path d="M463 630C462.8 631.5 461.6 640.4 461 643.7C460.4 647 458.6 657.1 458 660C457.4 662.9 458.3 669 455.5 670C452.7 671 438.6 669.1 433 669C427.4 668.9 412.6 668.7 405.5 668.7C398.4 668.7 375.6 668.5 369.4 668.7C363.2 668.9 353.5 670.4 350 670.5C346.5 670.6 342 669.9 337.5 669.8C333 669.7 313.3 669.8 309.8 670C306.3 670.2 306.7 671.5 305.6 671.5C304.5 671.5 301 671.3 300 670C299 668.7 298.1 661.8 297 660C295.9 658.2 292 655 290 654C288 653 282.4 651.8 279 651C275.6 650.2 263.5 647.8 259.8 647C256.1 646.2 248.5 644.9 246 644C243.5 643.1 239.2 639.3 237.6 639C236 638.7 232.5 640.5 232 641C231.5 641.5 231.8 642.8 233.5 643.7C235.2 644.6 245.3 647.6 247 649C248.7 650.4 248.7 654.4 248.7 656C248.7 657.6 248.2 662.1 247 663C245.8 663.9 240.5 663.8 237.6 664C234.7 664.2 223.3 665.4 221 665C218.7 664.6 217.6 661.8 216.8 660C216 658.2 214.6 651.7 214 649C213.4 646.3 212.1 637.7 211 635.4C209.9 633.1 205.4 629.6 204 628.6C202.6 627.6 199.2 626.8 198 626.6C196.8 626.4 194.3 626.1 193.2 626.5C192.1 626.9 189.1 628.9 187.7 630.2C186.3 631.5 182.2 636.7 180.3 638.5C178.4 640.3 172.9 644.9 171 646.8C169.1 648.7 164.9 654.7 163.6 656C162.3 657.3 160.3 658.4 159.5 658.8C158.7 659.2 156.7 658.1 156.8 659.2C156.9 660.3 159.2 665.8 160 668.7C160.8 671.6 162.9 681.5 164 685C165.1 688.5 168.7 697.8 169.6 700.6C170.5 703.4 170.9 708.6 171.9 710C172.9 711.4 177.7 711.6 179 713C180.3 714.4 183.3 721.4 183.5 722.8C183.7 724.2 181 724.7 180.7 725.6C180.4 726.5 181.4 729.5 181 731C180.6 732.5 178.4 737.2 177 739C175.6 740.8 169.9 746.3 168 747.6C166.1 748.9 161.7 750.8 159.5 751C157.3 751.2 150.4 749 147.8 749C145.2 749 137.4 750.2 136 751C134.6 751.8 135.2 754.4 135.5 756C135.8 757.6 138.9 762.7 139 765C139.1 767.3 137.4 774.2 136.7 776.8C136 779.4 133.7 786.1 133 788.5C132.3 790.9 130.8 796.7 130.8 798.8C130.8 800.9 132.9 805.8 133 807.6C133.1 809.4 131.2 813.3 131.7 814.9C132.2 816.5 136.1 820.4 137.6 822C139.1 823.6 143.9 827.1 144.9 829.5C145.9 831.9 146 841.1 147 844C148 846.9 152.3 853.6 153.7 855.9C155.1 858.2 159.4 862.1 160 865C160.6 867.9 159.9 879.1 159.5 882C159.1 884.9 156.5 888.4 156 891C155.5 893.6 154.9 902.4 155 905.6C155.1 908.8 156.2 917.2 156.6 920C157 922.8 159.2 927.7 159 930.5C158.8 933.3 155.3 941.6 155 945C154.7 948.4 156.1 958.4 156.6 961C157.1 963.6 158.2 967.6 159.5 968.5C160.8 969.4 166.1 968.3 168 969.4C169.9 970.5 175 976.8 177 978.8C179 980.8 184.5 985.8 185.9 987.6C187.3 989.4 188.2 994.3 190 994.9C191.8 995.5 200.2 992.3 202 992.8C203.8 993.3 204.6 996.9 206 999C207.4 1001.1 213 1009.7 215 1012C217 1014.3 222.3 1018.3 224 1019.8C225.7 1021.3 230.8 1024.1 230.6 1025.6C230.4 1027.1 224.3 1031.9 222.4 1033C220.5 1034.1 215 1034.1 213.7 1035.9C212.4 1037.7 211.7 1047.1 210.7 1049C209.7 1050.9 206.5 1052.2 204.9 1053C203.3 1053.8 197.7 1055.4 196 1056C194.3 1056.6 190.7 1057.8 190 1058"/>
</g>
<g fill="none" stroke="#000" stroke-width="1.5" stroke-linejoin="round">
<ellipse cx="293.2" cy="143.6" rx="0.9" ry="1.4" transform="rotate(0 293.2 143.6)" fill="#000"/>
<ellipse cx="273" cy="150" rx="1.2" ry="1.0" transform="rotate(-30 273 150)" fill="#000"/>
<path d="M202 170.3L206 170.8L212 172.3L217 171.8L221 174.3L229 177.6L228.5 178.3L218 175.5L209 173.2L203 171.5Z"/>
<path d="M235 178L246 178.5L246 180L235 179.5Z"/>
<ellipse cx="267.6" cy="194.7" rx="3.3" ry="1.9" transform="rotate(20 267.6 194.7)" fill="none"/>
<ellipse cx="311" cy="226" rx="2" ry="1.2" transform="rotate(30 311 226)" fill="#000"/>
<ellipse cx="306.5" cy="232.5" rx="1" ry="1.8" transform="rotate(20 306.5 232.5)" fill="#000"/>
<path d="M318 231.5L324 227L331 224L335 223.5L331 227L323 230.5Z"/>
<ellipse cx="294.5" cy="289" rx="1.8" ry="3.4" transform="rotate(-35 294.5 289)" fill="none"/>
<ellipse cx="303" cy="296.5" rx="2.6" ry="1.9" transform="rotate(30 303 296.5)" fill="none"/>
<ellipse cx="335" cy="302.5" rx="2.8" ry="1.6" transform="rotate(15 335 302.5)" fill="none"/>
<ellipse cx="238.5" cy="313.8" rx="1.8" ry="2.8" transform="rotate(0 238.5 313.8)" fill="none"/>
<ellipse cx="389.4" cy="329" rx="3.1" ry="3.7" transform="rotate(-15 389.4 329)" fill="none"/>
<ellipse cx="402.7" cy="331.8" rx="3.9" ry="2.4" transform="rotate(20 402.7 331.8)" fill="none"/>
<ellipse cx="523" cy="314" rx="2.8" ry="2.6" transform="rotate(30 523 314)" fill="none"/>
<ellipse cx="525.4" cy="337.7" rx="1.1" ry="1.1" transform="rotate(0 525.4 337.7)" fill="#000"/>
<ellipse cx="468" cy="355.8" rx="1.7" ry="1.2" transform="rotate(0 468 355.8)" fill="#000"/>
<ellipse cx="427" cy="381.2" rx="1.2" ry="1.2" transform="rotate(0 427 381.2)" fill="#000"/>
<ellipse cx="427.4" cy="386.3" rx="1" ry="1" transform="rotate(0 427.4 386.3)" fill="#000"/>
<ellipse cx="437.4" cy="383.2" rx="1.2" ry="1.2" transform="rotate(0 437.4 383.2)" fill="#000"/>
</g>
<text x="932.3" y="1052.6" text-anchor="end" font-family="Liberation Sans, sans-serif" font-size="9.72" letter-spacing="0.4" fill="#111">©Sub Bidang Prediksi Cuaca BMKG, 2023</text>
</g>
<rect x="62.5" y="132.5" width="871" height="924" fill="none" stroke="#000" stroke-width="3"/>
<path d="M980.2 0.5H1054V207.6L1017 157.5L980.2 207.6Z" fill="#0568a6"/>
<text transform="translate(1031.2 69) rotate(-90)" text-anchor="middle" font-family="Liberation Sans, sans-serif" font-weight="bold" font-size="38.6" fill="#fff">IFS</text>
<rect x="970" y="224.5" width="20" height="34.4" fill="#2d004b" shape-rendering="crispEdges"/>
<rect x="970" y="258.4" width="20" height="48.5" fill="#08306b" shape-rendering="crispEdges"/>
<rect x="970" y="306.4" width="20" height="48.5" fill="#2166ac" shape-rendering="crispEdges"/>
<rect x="970" y="354.4" width="20" height="48.5" fill="#4393c3" shape-rendering="crispEdges"/>
<rect x="970" y="402.4" width="20" height="48.5" fill="#92c5de" shape-rendering="crispEdges"/>
<rect x="970" y="450.4" width="20" height="48.5" fill="#d1e5f0" shape-rendering="crispEdges"/>
<rect x="970" y="498.4" width="20" height="48.5" fill="#f7f7f7" shape-rendering="crispEdges"/>
<rect x="970" y="546.4" width="20" height="48.5" fill="#ffe000" shape-rendering="crispEdges"/>
<rect x="970" y="594.4" width="20" height="48.5" fill="#fee391" shape-rendering="crispEdges"/>
<rect x="970" y="642.4" width="20" height="48.5" fill="#fec44f" shape-rendering="crispEdges"/>
<rect x="970" y="690.4" width="20" height="48.5" fill="#fe9929" shape-rendering="crispEdges"/>
<rect x="970" y="738.4" width="20" height="48.5" fill="#cc4c02" shape-rendering="crispEdges"/>
<rect x="970" y="786.4" width="20" height="48.5" fill="#993404" shape-rendering="crispEdges"/>
<rect x="970" y="834.4" width="20" height="48.5" fill="#662506" shape-rendering="crispEdges"/>
<rect x="970" y="882.4" width="20" height="48.5" fill="#a50f15" shape-rendering="crispEdges"/>
<rect x="970" y="930.4" width="20" height="34.6" fill="#e83a30" shape-rendering="crispEdges"/>
<rect x="970.5" y="224.5" width="19" height="740" fill="none" stroke="#000" stroke-width="3"/>
<line x1="990" y1="258.4" x2="1001.6" y2="258.4" stroke="#000" stroke-width="3"/>
<text x="1014.5" y="265" font-family="Liberation Sans, sans-serif" font-size="16.67" fill="#000">100.0</text>
<line x1="990" y1="306.4" x2="1001.6" y2="306.4" stroke="#000" stroke-width="3"/>
<text x="1014.5" y="313" font-family="Liberation Sans, sans-serif" font-size="16.67" fill="#000">90.0</text>
<line x1="990" y1="354.4" x2="1001.6" y2="354.4" stroke="#000" stroke-width="3"/>
<text x="1014.5" y="361" font-family="Liberation Sans, sans-serif" font-size="16.67" fill="#000">80.0</text>
<line x1="990" y1="402.4" x2="1001.6" y2="402.4" stroke="#000" stroke-width="3"/>
<text x="1014.5" y="409" font-family="Liberation Sans, sans-serif" font-size="16.67" fill="#000">70.0</text>
<line x1="990" y1="450.4" x2="1001.6" y2="450.4" stroke="#000" stroke-width="3"/>
<text x="1014.5" y="457" font-family="Liberation Sans, sans-serif" font-size="16.67" fill="#000">60.0</text>
<line x1="990" y1="498.4" x2="1001.6" y2="498.4" stroke="#000" stroke-width="3"/>
<text x="1014.5" y="505" font-family="Liberation Sans, sans-serif" font-size="16.67" fill="#000">50.0</text>
<line x1="990" y1="546.4" x2="1001.6" y2="546.4" stroke="#000" stroke-width="3"/>
<text x="1014.5" y="553" font-family="Liberation Sans, sans-serif" font-size="16.67" fill="#000">40.0</text>
<line x1="990" y1="594.4" x2="1001.6" y2="594.4" stroke="#000" stroke-width="3"/>
<text x="1014.5" y="601" font-family="Liberation Sans, sans-serif" font-size="16.67" fill="#000">30.0</text>
<line x1="990" y1="642.4" x2="1001.6" y2="642.4" stroke="#000" stroke-width="3"/>
<text x="1014.5" y="649" font-family="Liberation Sans, sans-serif" font-size="16.67" fill="#000">20.0</text>
<line x1="990" y1="690.4" x2="1001.6" y2="690.4" stroke="#000" stroke-width="3"/>
<text x="1014.5" y="697" font-family="Liberation Sans, sans-serif" font-size="16.67" fill="#000">10.0</text>
<line x1="990" y1="738.4" x2="1001.6" y2="738.4" stroke="#000" stroke-width="3"/>
<text x="1014.5" y="745" font-family="Liberation Sans, sans-serif" font-size="16.67" fill="#000">5.0</text>
<line x1="990" y1="786.4" x2="1001.6" y2="786.4" stroke="#000" stroke-width="3"/>
<text x="1014.5" y="793" font-family="Liberation Sans, sans-serif" font-size="16.67" fill="#000">2.0</text>
<line x1="990" y1="834.4" x2="1001.6" y2="834.4" stroke="#000" stroke-width="3"/>
<text x="1014.5" y="841" font-family="Liberation Sans, sans-serif" font-size="16.67" fill="#000">1.0</text>
<line x1="990" y1="882.4" x2="1001.6" y2="882.4" stroke="#000" stroke-width="3"/>
<text x="1014.5" y="889" font-family="Liberation Sans, sans-serif" font-size="16.67" fill="#000">0.5</text>
<line x1="990" y1="930.4" x2="1001.6" y2="930.4" stroke="#000" stroke-width="3"/>
<text x="1014.5" y="937" font-family="Liberation Sans, sans-serif" font-size="16.67" fill="#000">0.0</text>
<text x="52.5" y="357" text-anchor="end" font-family="Liberation Sans, sans-serif" font-size="16.67" fill="#000">6°S</text>
<text x="661.8" y="1079" text-anchor="middle" font-family="Liberation Sans, sans-serif" font-size="16.67" fill="#000">107°E</text>
<text x="150.3" y="44.8" font-family="Liberation Sans, sans-serif" font-weight="bold" font-size="27.7" fill="#000">Prediksi Kelembapan Udara 500 hPa</text>
<text x="150.2" y="88.7" font-family="Liberation Sans, sans-serif" font-weight="bold" font-size="20.83" fill="#000">Wilayah Jabodetabek</text>
<text x="933" y="45" text-anchor="end" xml:space="preserve" font-family="Liberation Sans, sans-serif" font-weight="bold" font-size="17.4" fill="#000">Berlaku:  02 Februari 2026 12 UTC</text>
<text x="933.5" y="88.8" text-anchor="end" xml:space="preserve" font-family="Liberation Sans, sans-serif" font-weight="bold" font-style="italic" font-size="17.4" fill="#000">Data Inisial:  02 Februari 2026 00 UTC</text>
<text x="61" y="1100.8" font-family="Liberation Sans, sans-serif" font-size="17.5" fill="#000">Model: IFS 0.125</text>
<text x="933.5" y="1100.8" text-anchor="end" font-family="Liberation Sans, sans-serif" font-size="17.5" fill="#000">Sumber: CIPS BMKG</text>
<g id="logo"><defs><clipPath id="lc"><circle cx="85" cy="53.3" r="30.3"/></clipPath></defs><g clip-path="url(#lc)">
<rect x="53.88" y="22.03" width="61.98" height="5.83" fill="#0322c6"/>
<rect x="53.88" y="31.92" width="61.98" height="4.26" fill="#0322c6"/>
<rect x="53.88" y="39.14" width="61.98" height="2.87" fill="#0322c6"/>
<rect x="101.05" y="44.23" width="14.8" height="1.76" fill="#0322c6"/>
<rect x="109.84" y="47.0" width="6.01" height="1.76" fill="#0322c6"/>
<ellipse cx="79.04" cy="38.49" rx="7.6" ry="4.6" fill="#fff"/>
<rect x="68.86" y="37.75" width="20.35" height="6" fill="#fff"/>
<ellipse cx="62.66" cy="42.1" rx="5.2" ry="2.2" fill="#fff"/>
<ellipse cx="95.23" cy="42.38" rx="5.0" ry="2.3" fill="#fff"/>
<ellipse cx="105.22" cy="46.26" rx="4.0" ry="1.5" fill="#fff"/>
<ellipse cx="111.23" cy="48.95" rx="2.6" ry="1.2" fill="#fff"/>
<path d="M53.88 57.64L69.97 57.64L71.27 58.94L53.88 58.94Z" fill="#0b960b"/>
<path d="M53.88 60.23L71.91 60.23L74.04 62.36L53.88 62.36Z" fill="#0b960b"/>
<path d="M53.88 64.58L76.54 64.58L79.59 67.63L53.88 67.63Z" fill="#0b960b"/>
<path d="M53.88 70.31L81.72 70.31L86.07 74.66L53.88 74.66Z" fill="#0b960b"/>
<path d="M53.88 78.46L88.57 78.46L94.12 84.01L53.88 84.01Z" fill="#0b960b"/>
<path d="M74.41 61.9L115.86 61.9L115.86 63.28L75.8 63.28Z" fill="#0b960b"/>
<path d="M75.89 63.28L115.86 63.28L115.86 64.58L77.19 64.58Z" fill="#9bd49b"/>
<path d="M77.37 64.58L115.86 64.58L115.86 66.52L79.32 66.52Z" fill="#0b960b"/>
<path d="M81.17 68.46L115.86 68.46L115.86 71.61L84.31 71.61Z" fill="#0b960b"/>
<path d="M86.72 74.57L115.86 74.57L115.86 78.73L90.88 78.73Z" fill="#0b960b"/>
</g>
<line x1="55" y1="53.3" x2="115" y2="53.3" stroke="#5a5a5a" stroke-width="1.1"/>
<text x="85" y="97.3" text-anchor="middle" font-family="Liberation Sans, sans-serif" font-weight="bold" font-size="15.4" fill="#000">BMKG</text>
</g>
</svg>
</body></html>
